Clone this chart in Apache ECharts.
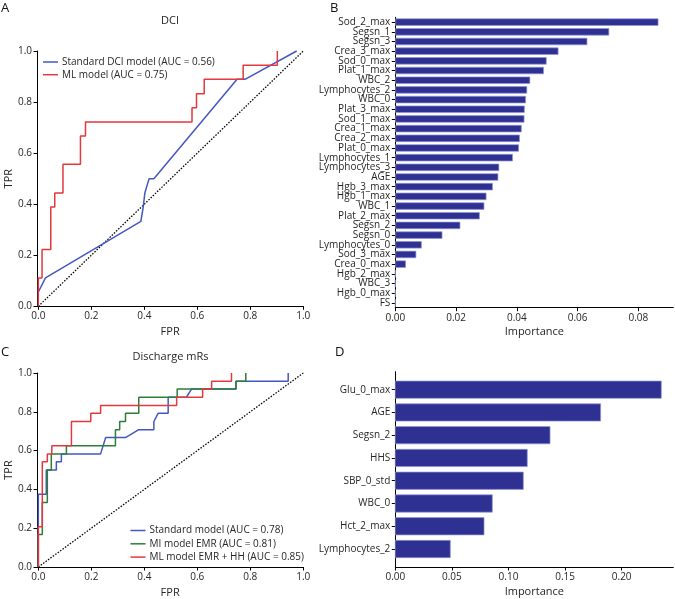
<!DOCTYPE html>
<html><head><meta charset="utf-8">
<script src="https://cdn.jsdelivr.net/npm/echarts@6/dist/echarts.min.js"></script>
<style>html,body{margin:0;padding:0;background:#fff}#c{width:675px;height:599px}</style>
</head><body><div id="c"></div>
<script>
// ---------- Panel A: DCI ROC ----------
const dciStdFpr = [0, 0.027, 0.387, 0.396, 0.402, 0.418, 0.436, 0.75, 0.78, 0.975];
const dciStdTpr = [0.056, 0.111, 0.333, 0.389, 0.444, 0.5, 0.5, 0.889, 0.889, 1.0];
const dciMlFpr = [0, 0, 0.014, 0.014, 0.047, 0.047, 0.062, 0.062, 0.093, 0.093, 0.159, 0.159, 0.178, 0.178, 0.58, 0.58, 0.597, 0.597, 0.626, 0.626, 0.773, 0.773, 0.902, 0.902];
const dciMlTpr = [0, 0.111, 0.111, 0.222, 0.222, 0.389, 0.389, 0.444, 0.444, 0.556, 0.556, 0.667, 0.667, 0.722, 0.722, 0.778, 0.778, 0.833, 0.833, 0.889, 0.889, 0.944, 0.944, 1.0];
// ---------- Panel C: Discharge mRs ROC ----------
const mrsStdFpr = [0, 0, 0.030, 0.030, 0.068, 0.068, 0.087, 0.087, 0.235, 0.254, 0.329, 0.379, 0.436, 0.436, 0.452, 0.49, 0.49, 0.559, 0.578, 0.746, 0.746, 0.943, 0.943];
const mrsStdTpr = [0, 0.375, 0.375, 0.5, 0.5, 0.542, 0.542, 0.583, 0.583, 0.667, 0.667, 0.708, 0.708, 0.75, 0.792, 0.792, 0.875, 0.875, 0.917, 0.917, 0.958, 0.958, 1.0];
const mrsMiFpr = [0, 0, 0.015, 0.015, 0.034, 0.034, 0.049, 0.049, 0.106, 0.106, 0.291, 0.291, 0.307, 0.307, 0.329, 0.329, 0.379, 0.379, 0.524, 0.524, 0.746, 0.746, 0.783, 0.783];
const mrsMiTpr = [0, 0.167, 0.167, 0.333, 0.333, 0.5, 0.5, 0.583, 0.583, 0.625, 0.625, 0.708, 0.708, 0.75, 0.75, 0.792, 0.792, 0.875, 0.875, 0.917, 0.917, 0.958, 0.958, 1.0];
const mrsMlFpr = [0, 0, 0.015, 0.015, 0.034, 0.034, 0.051, 0.051, 0.125, 0.125, 0.198, 0.198, 0.235, 0.235, 0.522, 0.522, 0.62, 0.62, 0.654, 0.654, 0.729, 0.729];
const mrsMlTpr = [0, 0.208, 0.208, 0.542, 0.542, 0.583, 0.583, 0.625, 0.625, 0.75, 0.75, 0.792, 0.792, 0.833, 0.833, 0.875, 0.875, 0.917, 0.917, 0.958, 0.958, 1.0];
const chanceLine = [0, 1];
const rocTicks = [0, 0.2, 0.4, 0.6, 0.8, 1.0];
// ---------- Panel B: DCI feature importance ----------
const featuresB = ['Sod_2_max','Segsn_1','Segsn_3','Crea_3_max','Sod_0_max','Plat_1_max','WBC_2','Lymphocytes_2','WBC_0','Plat_3_max','Sod_1_max','Crea_1_max','Crea_2_max','Plat_0_max','Lymphocytes_1','Lymphocytes_3','AGE','Hgb_3_max','Hgb_1_max','WBC_1','Plat_2_max','Segsn_2','Segsn_0','Lymphocytes_0','Sod_3_max','Crea_0_max','Hgb_2_max','WBC_3','Hgb_0_max','FS'];
const importanceB = [0.0866, 0.0704, 0.0632, 0.0537, 0.0498, 0.0489, 0.0444, 0.0434, 0.0430, 0.0426, 0.0425, 0.0416, 0.0410, 0.0407, 0.0387, 0.0342, 0.0339, 0.0321, 0.0300, 0.0293, 0.0278, 0.0214, 0.0155, 0.0087, 0.0069, 0.0035, 0, 0, 0, 0];
const ticksB = [0, 0.02, 0.04, 0.06, 0.08];
// ---------- Panel D: mRs feature importance ----------
const featuresD = ['Glu_0_max','AGE','Segsn_2','HHS','SBP_0_std','WBC_0','Hct_2_max','Lymphocytes_2'];
const importanceD = [0.235, 0.1814, 0.1367, 0.1166, 0.1131, 0.0857, 0.0784, 0.0486];
const ticksD = [0, 0.05, 0.10, 0.15, 0.20];

const FONT = 'Open Sans';
const TXT = '#262626';
const C_BLUE = '#4357c2', C_RED = '#e3393c', C_GREEN = '#2d7f38';
const BAR_FILL = '#2e3192', BAR_EDGE = '#9296d4';

const zip = (a, b) => a.map((v, i) => [v, b[i]]);
const idxD = featuresD.map((_, i) => i);

function baseAxis(extra) {
  return Object.assign({
    splitLine: {show: false},
    axisLine: {show: true, onZero: false, lineStyle: {color: '#000', width: 1}},
    nameTextStyle: {fontFamily: FONT, fontSize: 11, color: TXT}
  }, extra);
}
function rocX(g) {
  return baseAxis({type: 'value', gridIndex: g, min: -0.005, max: 1,
    axisTick: {show: true, length: 3.5, customValues: rocTicks, lineStyle: {color: '#000'}},
    axisLabel: {customValues: rocTicks, formatter: v => v.toFixed(1), margin: 5, fontFamily: FONT, fontSize: 10, color: TXT},
    name: 'FPR', nameLocation: 'middle', nameGap: 20});
}
function rocY(g) {
  return baseAxis({type: 'value', gridIndex: g, min: 0, max: 1, interval: 0.2,
    axisTick: {show: true, length: 3.5, lineStyle: {color: '#000'}},
    axisLabel: {formatter: v => v.toFixed(1), margin: 5, fontFamily: FONT, fontSize: 10, color: TXT},
    name: 'TPR', nameLocation: 'middle', nameGap: 23});
}
function impX(g, max, ticks, dec) {
  return baseAxis({type: 'value', gridIndex: g, min: 0, max: max,
    axisTick: {show: true, length: 3.5, customValues: ticks, lineStyle: {color: '#000'}},
    axisLabel: {customValues: ticks, formatter: v => v.toFixed(dec), margin: 5, fontFamily: FONT, fontSize: 10, color: TXT},
    name: 'Importance', nameLocation: 'middle', nameGap: 19});
}
function barRender(params, api) {
  const v = api.value(0), i = api.value(1);
  const p0 = api.coord([0, i]);
  const p1 = api.coord([v, i]);
  const h = api.size([0, 0.76])[1];
  const w = p1[0] - p0[0];
  return {type: 'rect', shape: {x: p0[0], y: p0[1] - h / 2, width: w, height: h},
    style: {fill: BAR_FILL, stroke: w > 0 ? BAR_EDGE : null, lineWidth: 0.7}};
}
function lineSeries(name, xi, data, color, z) {
  return {type: 'line', name: name, xAxisIndex: xi, yAxisIndex: xi, data: data, symbol: 'none',
    lineStyle: {color: color, width: 1.5}, itemStyle: {color: color}, z: z, animation: false, clip: false};
}
function diagSeries(xi) {
  return {type: 'line', xAxisIndex: xi, yAxisIndex: xi, data: zip(chanceLine, chanceLine), symbol: 'none',
    lineStyle: {color: '#000', width: 1.3, type: [1.5, 1.5]}, z: 1, animation: false, silent: true};
}
const legendText = {fontFamily: FONT, fontSize: 10, color: TXT, lineHeight: 12, padding: [0, 0, 0, -1]};

const yB = baseAxis({type: 'category', gridIndex: 1, inverse: true, data: featuresB,
  axisTick: {show: true, length: 3.5, alignWithLabel: true, interval: 0, lineStyle: {color: '#000'}},
  axisLabel: {interval: 0, margin: 5, fontFamily: FONT, fontSize: 10, color: TXT}});
const yD = baseAxis({type: 'value', gridIndex: 3, inverse: true, min: -0.79, max: 7.79,
  axisTick: {show: true, length: 3.5, customValues: idxD, lineStyle: {color: '#000'}},
  axisLabel: {customValues: idxD, formatter: v => featuresD[Math.round(v)], margin: 5, fontFamily: FONT, fontSize: 10, color: TXT}});

const option = {
  animation: false,
  backgroundColor: '#fff',
  grid: [
    {left: 37, top: 51, width: 266.3, height: 255.3},
    {left: 395.3, top: 17.3, width: 278, height: 290.4},
    {left: 37, top: 373, width: 266.3, height: 195},
    {left: 395.3, top: 371.7, width: 278, height: 195.3}
  ],
  xAxis: [rocX(0), impX(1, 0.0915, ticksB, 2), rocX(2), impX(3, 0.2456, ticksD, 2)],
  yAxis: [rocY(0), yB, rocY(2), yD],
  legend: [
    {data: ['Standard DCI model (AUC = 0.56)', 'ML model (AUC = 0.75)'], orient: 'vertical', left: 43, top: 56,
      icon: 'rect', itemWidth: 15, itemHeight: 1.5, itemGap: 0.7, textStyle: legendText, padding: 0},
    {data: ['Standard model (AUC = 0.78)', 'MI model EMR (AUC = 0.81)', 'ML model EMR + HH (AUC = 0.85)'], orient: 'vertical', left: 130.5, top: 524.5,
      icon: 'rect', itemWidth: 15, itemHeight: 1.5, itemGap: 1.3, textStyle: legendText, padding: 0}
  ],
  series: [
    diagSeries(0),
    lineSeries('Standard DCI model (AUC = 0.56)', 0, zip(dciStdFpr, dciStdTpr), C_BLUE, 2),
    lineSeries('ML model (AUC = 0.75)', 0, zip(dciMlFpr, dciMlTpr), C_RED, 3),
    {type: 'bar', xAxisIndex: 1, yAxisIndex: 1, data: importanceB, barWidth: '76%',
      itemStyle: {color: BAR_FILL, borderColor: BAR_EDGE, borderWidth: 0.7}, animation: false},
    diagSeries(2),
    lineSeries('Standard model (AUC = 0.78)', 2, zip(mrsStdFpr, mrsStdTpr), C_BLUE, 2),
    lineSeries('MI model EMR (AUC = 0.81)', 2, zip(mrsMiFpr, mrsMiTpr), C_GREEN, 3),
    lineSeries('ML model EMR + HH (AUC = 0.85)', 2, zip(mrsMlFpr, mrsMlTpr), C_RED, 4),
    {type: 'custom', xAxisIndex: 3, yAxisIndex: 3, renderItem: barRender, data: zip(importanceD, idxD), encode: {x: 0, y: 1}, animation: false}
  ],
  graphic: [
    {type: 'text', left: 1, top: 2, style: {text: 'A', font: '13px "Open Sans"', fill: '#111'}},
    {type: 'text', left: 330, top: 2, style: {text: 'B', font: '13px "Open Sans"', fill: '#111'}},
    {type: 'text', left: 1, top: 346, style: {text: 'C', font: '13px "Open Sans"', fill: '#111'}},
    {type: 'text', left: 335, top: 346, style: {text: 'D', font: '13px "Open Sans"', fill: '#111'}},
    {type: 'text', x: 170, y: 21, style: {text: 'DCI', font: '11px "Open Sans"', fill: TXT, align: 'center', verticalAlign: 'middle'}},
    {type: 'text', x: 170.5, y: 357, style: {text: 'Discharge mRs', font: '11px "Open Sans"', fill: TXT, align: 'center', verticalAlign: 'middle'}}
  ]
};
const chart = echarts.init(document.getElementById('c'));
chart.setOption(option);
</script></body></html>
